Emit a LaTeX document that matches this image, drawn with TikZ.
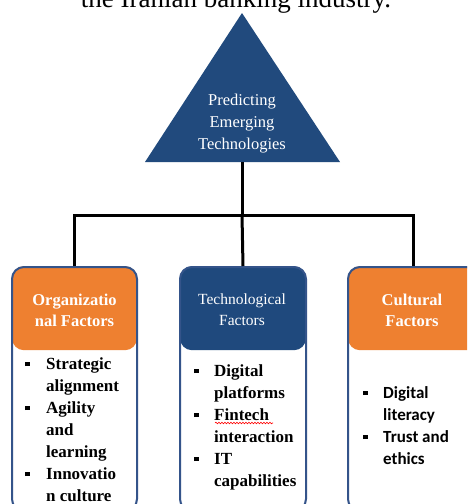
\documentclass[tikz,border=0pt]{standalone}
\usepackage{fontspec}
\setmainfont{Liberation Serif}
\newfontfamily\carl{Carlito}
\usetikzlibrary{decorations.pathmorphing}
\definecolor{triblue}{RGB}{33,74,125}
\definecolor{hdblue}{RGB}{31,73,125}
\definecolor{hdorange}{RGB}{238,128,48}
\definecolor{boxline}{RGB}{52,84,138}
\newcommand\bul[1]{\makebox[#1][l]{\rule[3pt]{4.5pt}{4.5pt}}}
\newcommand\ind[1]{\hspace*{#1}}
\tikzset{
  conn/.style={line width=3pt},
  header/.style={rounded corners=12pt, minimum width=125pt, minimum height=84pt, anchor=north, inner sep=0pt},
  box/.style={draw=boxline, line width=2pt, rounded corners=12pt, minimum height=244pt, anchor=north, inner sep=0pt},
  headtext/.style={text=white, align=center, inner sep=0pt},
  body/.style={anchor=base west, inner sep=0pt}
}
\begin{document}
\begin{tikzpicture}[x=1pt,y=-1pt]
\useasboundingbox (0,0) rectangle (467,504);
\fill[white] (0,0) rectangle (467,504);
\begin{scope}
\clip (0,0) rectangle (467,504);
\node[anchor=base, inner sep=0pt, font=\fontsize{27}{30}\selectfont] (cap) at (236,7) {the Iranian banking industry.};
% top triangle
\fill[triblue] (242,13) -- (340,162) -- (145,162) -- cycle;
\coordinate (tribase) at (242,162);
\node[headtext, font=\fontsize{16.5}{22}\selectfont] (title) at (242,124) {Predicting\\Emerging\\Technologies};
% headers
\node[header, fill=hdorange] (orgh) at (74.5,266) {};
\node[header, fill=hdblue, minimum width=126pt] (techh) at (243,266) {};
\node[header, fill=hdorange, minimum width=130pt] (culh) at (413,266) {};
% boxes
\node[box, minimum width=125pt] (org) at (74.5,266) {};
\node[box, minimum width=126pt] (tech) at (243,266) {};
\node[box, minimum width=130pt] (cul) at (413,266) {};
% header texts
\node[headtext, font=\fontsize{16.5}{21}\selectfont\bfseries] (orgt) at (74.5,310) {Organizatio\\nal Factors};
\node[headtext, font=\fontsize{15.5}{21}\selectfont] (techt) at (242,310) {Technological\\Factors};
\node[headtext, font=\fontsize{16.5}{21}\selectfont\bfseries] (cult) at (412,310) {Cultural\\Factors};
% connectors
\coordinate (hub) at (242,215);
\draw[conn] (tribase) -- (hub);
\draw[conn] (org.north) |- (hub) -| (cul.north);
\draw[conn] (hub) -- (tech.north);
% bodies
\node[body] (orgb) at (25,369) {\parbox[t]{115pt}{\fontsize{17}{22}\selectfont\bfseries
\bul{21pt}Strategic\\\ind{21pt}alignment\\\bul{21pt}Agility\\\ind{21pt}and\\\ind{21pt}learning\\\bul{21pt}Innovatio\\\ind{21pt}n culture}};
\node[body] (techb) at (194,376) {\parbox[t]{115pt}{\fontsize{17}{22}\selectfont\bfseries
\bul{20pt}Digital\\\ind{20pt}platforms\\\bul{20pt}Fintech\\\ind{20pt}interaction\\\bul{20pt}IT\\\ind{20pt}capabilities}};
\draw[red, line width=0.6pt, decorate, decoration={snake, amplitude=0.8pt, segment length=3pt}] (215,423) -- (273,423);
\node[body] (culb) at (363,398) {\parbox[t]{100pt}{\carl\fontsize{17}{22}\selectfont\bfseries
\bul{20pt}Digital\\\ind{20pt}literacy\\\bul{20pt}Trust and\\\ind{20pt}ethics}};
\end{scope}
\end{tikzpicture}
\end{document}
